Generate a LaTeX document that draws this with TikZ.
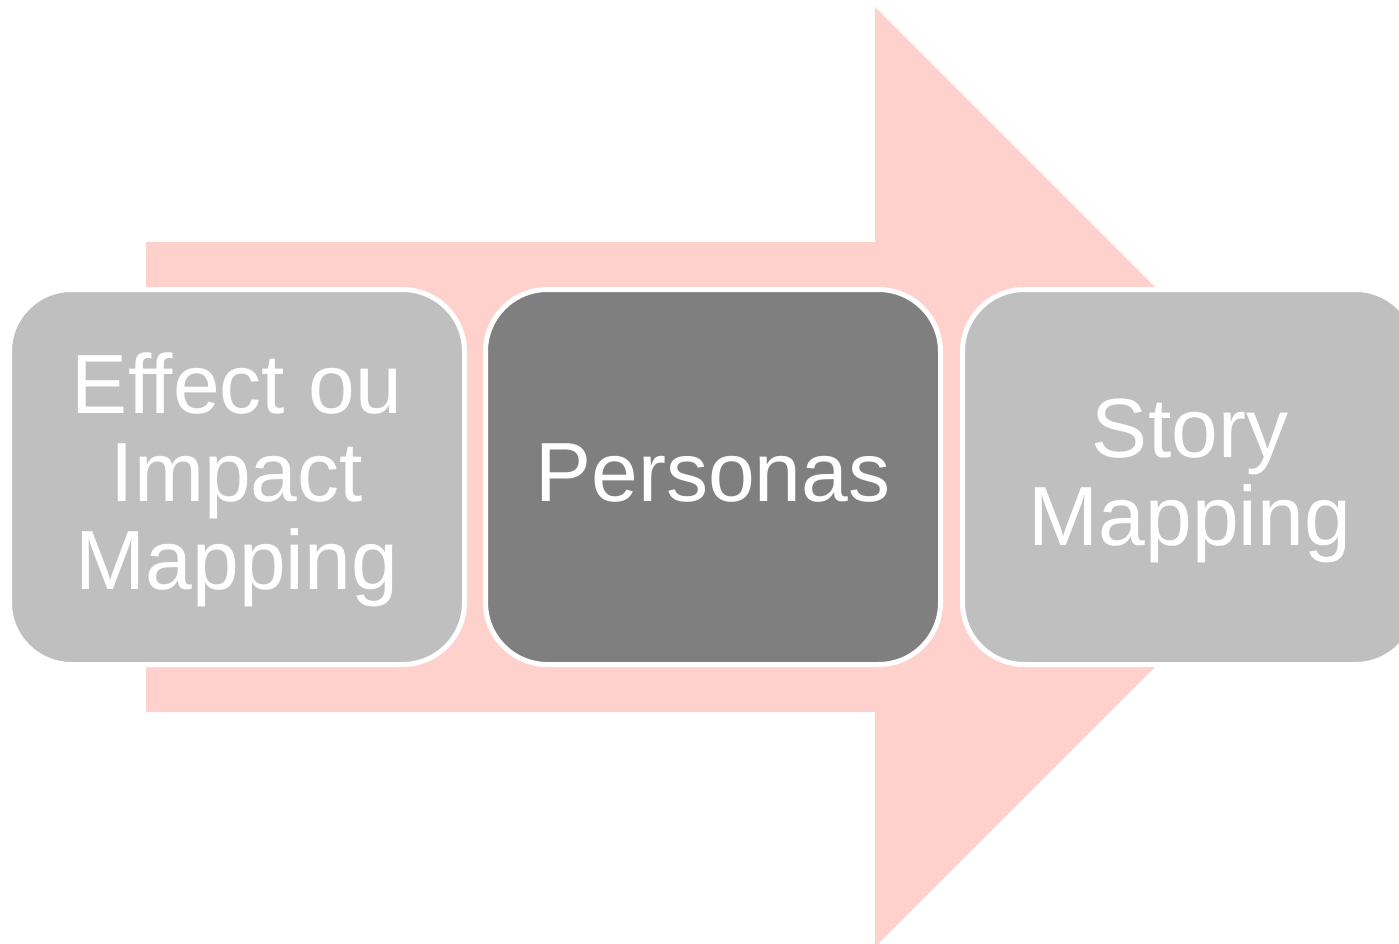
\documentclass[tikz,border=0pt]{standalone}
\usepackage{fontspec}
\setmainfont{Liberation Sans}
\definecolor{arrowpink}{HTML}{FFD1CC}
\definecolor{boxlight}{HTML}{BFBFBF}
\definecolor{boxdark}{HTML}{7F7F7F}
\begin{document}
\begin{tikzpicture}[x=1pt,y=-1pt,
  stagebox/.style={draw=white, line width=5pt, rounded corners=62pt,
    minimum width=455pt, minimum height=375pt, inner sep=0pt},
  stagetext/.style={text=white, align=center, inner sep=0pt,
    font=\fontsize{84}{88}\selectfont}]
\useasboundingbox (0,0) rectangle (1399,944);
\clip (0,0) rectangle (1399,944);
\fill[arrowpink] (146,242) -- (875,242) -- (875,7) -- (1345,477) -- (875,947) -- (875,712) -- (146,712) -- cycle;
\node[stagebox, fill=boxlight] (effect) at (237,477) {};
\node[stagebox, fill=boxdark] (personas) at (713,477) {};
\node[stagebox, fill=boxlight] (story) at (1190,477) {};
\node[stagetext] (effectlabel) at ([yshift=-3pt]effect.center) {Effect ou\\Impact\\Mapping};
\node[stagetext] (personaslabel) at ([yshift=4pt]personas.center) {Personas};
\node[stagetext] (storylabel) at ([yshift=-4pt]story.center) {Story\\Mapping};
\end{tikzpicture}
\end{document}
